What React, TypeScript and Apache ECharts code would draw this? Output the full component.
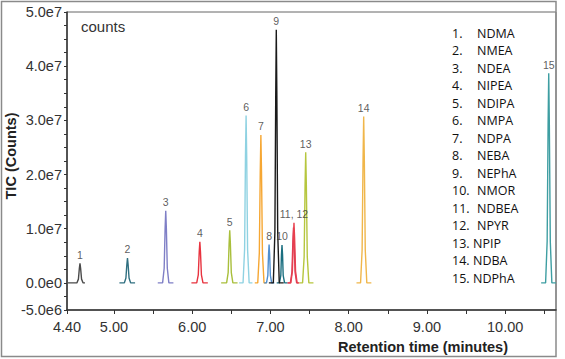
import React, { useEffect, useRef } from "react";
import * as echarts from "echarts";

// Compound names (legend list)
const compounds = [
  "NDMA", "NMEA", "NDEA", "NIPEA", "NDIPA", "NMPA", "NDPA", "NEBA",
  "NEPhA", "NMOR", "NDBEA", "NPYR", "NPIP", "NDBA", "NDPhA",
];

// Peak labels shown above apexes
const peakLabels = ["1", "2", "3", "4", "5", "6", "7", "8", "9", "10", "", "11, 12", "13", "14", "15"];

const peakColors = [
  "#4a4a4a", "#2f6f80", "#7f7fc6", "#e8333f", "#a9bf3c", "#8fd2e2", "#f6a733", "#4f8fd0",
  "#1a1a1a", "#1b6f80", "#d63a5a", "#e8404e", "#b6c63e", "#f0b64a", "#3e9ea2",
];

// Chromatogram traces: [retention time (min), TIC (×1e6 counts)]
const peak1 = [[4.41, 0], [4.526, 0], [4.546, 0.7], [4.558, 2.7], [4.566, 3.6], [4.574, 2.7], [4.586, 0.7], [4.606, 0], [4.63, 0]];
const peak2 = [[5.07, 0], [5.133, 0], [5.153, 0.9], [5.165, 3.4], [5.173, 4.6], [5.181, 3.4], [5.193, 0.9], [5.213, 0], [5.27, 0]];
const peak3 = [[5.56, 0], [5.622, 0], [5.642, 2.7], [5.654, 10.0], [5.662, 13.3], [5.67, 10.0], [5.682, 2.7], [5.702, 0], [5.76, 0]];
const peak4 = [[5.99, 0], [6.058, 0], [6.078, 1.5], [6.09, 5.7], [6.098, 7.6], [6.106, 5.7], [6.118, 1.5], [6.138, 0], [6.2, 0]];
const peak5 = [[6.37, 0], [6.44, 0], [6.46, 1.9], [6.472, 7.3], [6.48, 9.7], [6.488, 7.3], [6.5, 1.9], [6.52, 0], [6.58, 0]];
const peak6 = [[6.6, 0], [6.65, 0], [6.67, 6.2], [6.681, 23.2], [6.689, 30.9], [6.697, 23.2], [6.708, 6.2], [6.728, 0], [6.77, 0]];
const peak7 = [[6.8, 0], [6.838, 0], [6.858, 5.5], [6.87, 20.5], [6.878, 27.3], [6.886, 20.5], [6.898, 5.5], [6.918, 0], [6.95, 0]];
const peak8 = [[6.92, 0], [6.95, 0], [6.967, 1.4], [6.976, 5.3], [6.983, 7.1], [6.99, 5.3], [6.999, 1.4], [7.016, 0], [7.05, 0]];
const peak9 = [[6.98, 0], [7.037, 0], [7.057, 9.3], [7.068, 35.0], [7.075, 46.7], [7.082, 35.0], [7.093, 9.3], [7.113, 0], [7.17, 0]];
const peak10 = [[7.08, 0], [7.115, 0], [7.133, 1.4], [7.141, 5.2], [7.148, 7.0], [7.155, 5.2], [7.163, 1.4], [7.181, 0], [7.22, 0]];
const peak11 = [[7.22, 0], [7.255, 0], [7.275, 2.0], [7.287, 7.6], [7.295, 10.2], [7.303, 7.6], [7.315, 2.0], [7.335, 0], [7.36, 0]];
const peak12 = [[7.22, 0], [7.261, 0], [7.281, 2.2], [7.293, 8.3], [7.301, 11.1], [7.309, 8.3], [7.321, 2.2], [7.341, 0], [7.37, 0]];
const peak13 = [[7.37, 0], [7.411, 0], [7.431, 4.8], [7.443, 18.1], [7.451, 24.1], [7.459, 18.1], [7.471, 4.8], [7.491, 0], [7.55, 0]];
const peak14 = [[8.1, 0], [8.152, 0], [8.172, 6.1], [8.184, 23.0], [8.192, 30.7], [8.2, 23.0], [8.212, 6.1], [8.232, 0], [8.29, 0]];
const peak15 = [[10.46, 0], [10.517, 0], [10.537, 7.7], [10.549, 29.0], [10.557, 38.7], [10.565, 29.0], [10.577, 7.7], [10.597, 0], [10.65, 0]];

const peaks = [peak1, peak2, peak3, peak4, peak5, peak6, peak7, peak8, peak9, peak10, peak11, peak12, peak13, peak14, peak15];

// Axis ticks / labels
const xLabelValues = [4.4, 5, 6, 7, 8, 9, 10];
const xTickValues = [4.4, 5, 5.5, 6, 6.5, 7, 7.5, 8, 8.5, 9, 9.5, 10, 10.5];
const yLabelValues = [-5, 0, 10, 20, 30, 40, 50];
const yTickValues = [-5, -2.5, 0, 2.5, 5, 7.5, 10, 12.5, 15, 17.5, 20, 22.5, 25, 27.5, 30, 32.5, 35, 37.5, 40, 42.5, 45, 47.5, 50];

const AXIS_FONT = "'Liberation Sans', Arial, sans-serif";
const LIST_FONT = "'Open Sans', 'Noto Sans', sans-serif";

function fmtY(v: number): string {
  if (v === 0) return "0.0e0";
  const c = v * 1e6;
  const e = Math.floor(Math.log10(Math.abs(c)) + 1e-9);
  const m = c / Math.pow(10, e);
  return m.toFixed(1) + "e" + e;
}

export default function App() {
  const ref = useRef<HTMLDivElement>(null);
  useEffect(() => {
    if (!ref.current) return;
    const chart = echarts.init(ref.current, undefined, { renderer: "svg" });

    const series: any[] = peaks.map((pts, i) => ({
      type: "line",
      name: compounds[i],
      data: pts,
      symbol: "none",
      showSymbol: false,
      smooth: false,
      z: i === 8 ? 5 : 3,
      lineStyle: { color: peakColors[i], width: 1.4 },
      silent: true,
    }));

    series.push({
      type: "scatter",
      name: "labels",
      symbolSize: 0,
      silent: true,
      z: 6,
      data: peaks.map((pts, i) => ({
        value: pts[4],
        label: {
          show: peakLabels[i] !== "",
          formatter: peakLabels[i],
          position: "top",
          distance: 3,
          fontSize: 10.5,
          fontFamily: AXIS_FONT,
          color: "#333",
        },
      })),
    });

    const graphics: any[] = [
      {
        type: "rect",
        shape: { x: 1.5, y: 1.5, width: 554.5, height: 355 },
        style: { fill: "none", stroke: "#8a8a8a", lineWidth: 1.5 },
        silent: true,
      },
      {
        type: "text",
        x: 81,
        y: 26,
        style: { text: "counts", font: `15px ${AXIS_FONT}`, fill: "#333", verticalAlign: "middle", align: "left" },
      },
      {
        type: "text",
        x: 11,
        y: 156,
        rotation: Math.PI / 2,
        style: { text: "TIC (Counts)", font: `bold 14.5px ${AXIS_FONT}`, fill: "#222", verticalAlign: "middle", align: "center" },
      },
      {
        type: "text",
        x: 423,
        y: 347,
        style: { text: "Retention time (minutes)", font: `bold 14.5px ${AXIS_FONT}`, fill: "#222", verticalAlign: "middle", align: "center" },
      },
    ];
    compounds.forEach((name, i) => {
      const y = 33 + i * 17.5;
      graphics.push({
        type: "text",
        x: 452,
        y,
        style: { text: `${i + 1}.`, font: `12.5px ${LIST_FONT}`, fill: "#111", verticalAlign: "middle", align: "left" },
      });
      graphics.push({
        type: "text",
        x: i >= 12 ? 473 : 477,
        y,
        style: { text: name, font: `12.5px ${LIST_FONT}`, fill: "#111", verticalAlign: "middle", align: "left" },
      });
    });

    chart.setOption({
      animation: false,
      backgroundColor: "#ffffff",
      grid: { left: 67, top: 12, right: 9, bottom: 49, show: true, borderColor: "#666", borderWidth: 1 },
      xAxis: {
        type: "value",
        min: 4.4,
        max: 10.65,
        axisLine: { show: true, onZero: false, lineStyle: { color: "#333", width: 1.5 } },
        axisTick: { show: true, customValues: xTickValues, length: 4, inside: false, lineStyle: { color: "#333" } },
        axisLabel: {
          customValues: xLabelValues,
          formatter: (v: number) => v.toFixed(2),
          fontSize: 14.5,
          fontFamily: AXIS_FONT,
          color: "#333",
          margin: 9,
        },
        splitLine: { show: false },
      },
      yAxis: {
        type: "value",
        min: -5,
        max: 50,
        axisLine: { show: true, onZero: false, lineStyle: { color: "#333", width: 1.5 } },
        axisTick: { show: true, customValues: yTickValues, length: 3, inside: false, lineStyle: { color: "#333" } },
        axisLabel: {
          customValues: yLabelValues,
          formatter: (v: number) => fmtY(v),
          fontSize: 14.5,
          fontFamily: AXIS_FONT,
          color: "#333",
          margin: 5,
        },
        splitLine: { show: false },
      },
      graphic: graphics,
      series,
    });
    return () => chart.dispose();
  }, []);
  return <div ref={ref} style={{ position: "fixed", left: 0, top: 0, width: 565, height: 359, background: "#fff" }} />;
}
